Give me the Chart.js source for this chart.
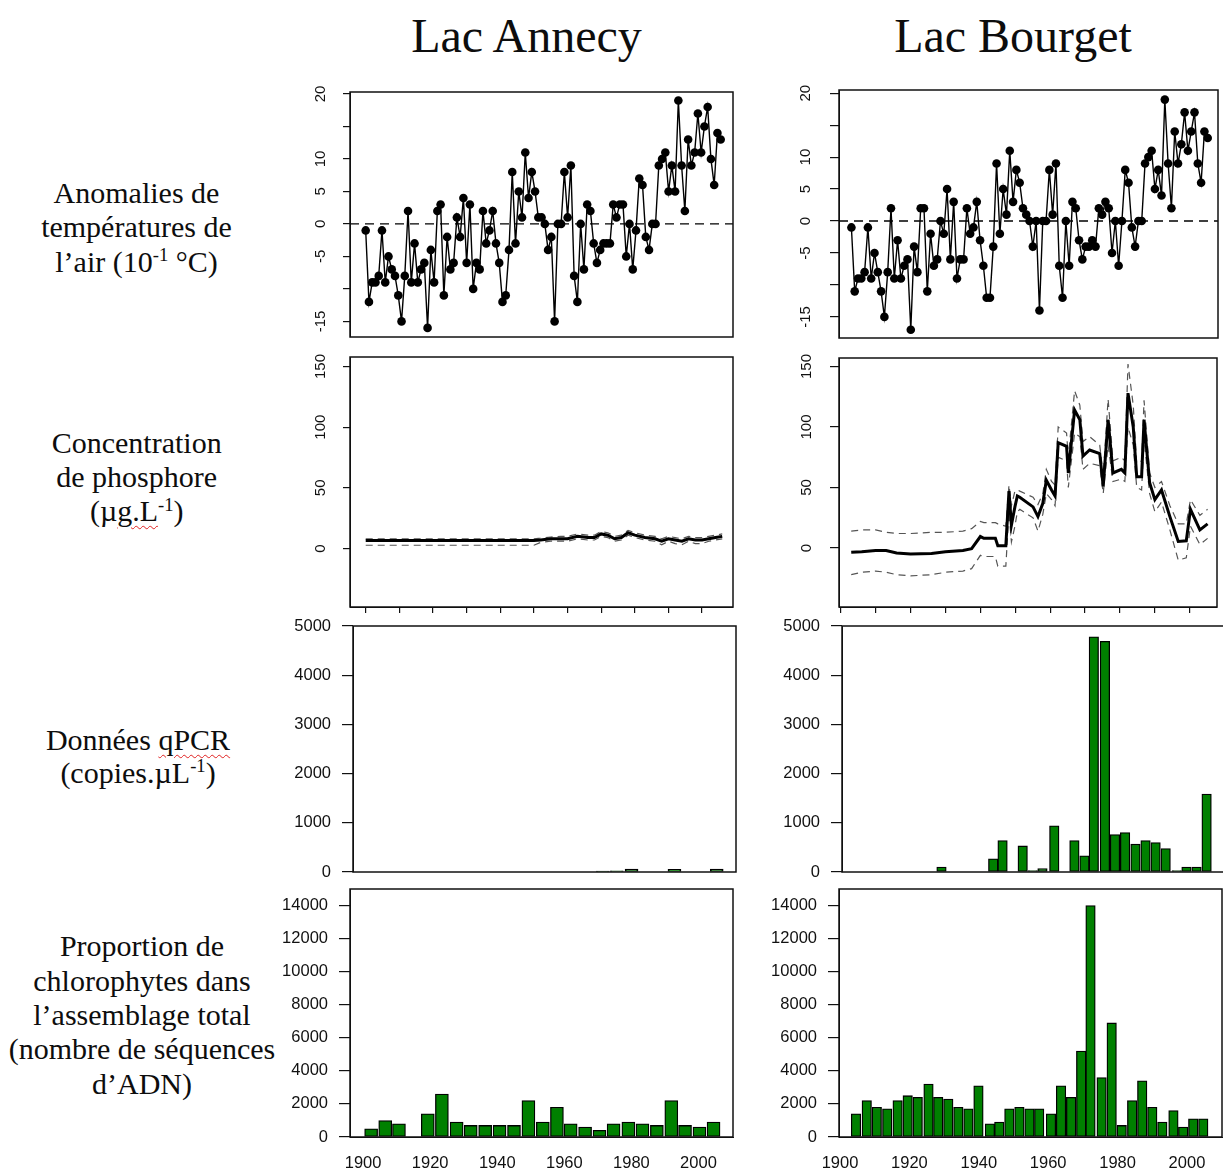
<!DOCTYPE html>
<html><head><meta charset="utf-8">
<script src="https://cdn.jsdelivr.net/npm/chart.js@4.4.0/dist/chart.umd.min.js"></script>
<style>
html,body{margin:0;padding:0;background:#fff;width:1223px;height:1171px;overflow:hidden;position:relative;}
canvas{position:absolute;}
.t{position:absolute;font-family:"Liberation Serif","Times New Roman",serif;color:#0d0d0d;text-align:center;white-space:nowrap;}
.title{font-size:48px;line-height:48px;width:400px;}
.lab{font-size:30px;line-height:34.3px;width:300px;}
.sup{font-size:0.62em;position:relative;top:-0.55em;}
.sp{text-decoration:underline wavy #e02020;text-decoration-thickness:1px;text-underline-offset:4px;}
</style></head><body>
<div class="t title" style="left:326.5px;top:12px">Lac Annecy</div>
<div class="t title" style="left:813px;top:12px">Lac Bourget</div>
<div class="t lab" style="left:-13.5px;top:176px">Anomalies de<br>températures de<br>l’air (10<span class="sup">-1</span> °C)</div>
<div class="t lab" style="left:-13.3px;top:425.7px">Concentration<br>de phosphore<br>(µ<span class="sp">g.L</span><span class="sup">-1</span>)</div>
<div class="t lab" style="left:-12px;top:722.7px;line-height:33px">Données <span class="sp">qPCR</span><br>(copies.µL<span class="sup">-1</span>)</div>
<div class="t lab" style="left:-8px;top:929.4px">Proportion de<br>chlorophytes dans<br>l’assemblage total<br>(nombre de séquences<br>d’ADN)</div>
<script>
// ---------------- DATA ----------------
const tempAnnecy = [-1,-12,-9,-9,-8,-1,-9,-5,-7,-8,-11,-15,-8,2,-9,-3,-9,-7,-6,-16,-4,-9,2,3,-11,-2,-7,-6,1,-2,4,-6,3,-10,-6,-7,2,-3,-1,2,-3,-6,-12,-11,-4,8,-3,5,1,11,4,8,5,1,1,0,-4,-2,-15,0,0,8,1,9,-8,-12,0,-7,3,2,-3,-6,-4,-3,-3,-3,3,1,3,3,-5,0,-7,-1,7,6,-2,-4,0,0,9,10,11,5,9,5,19,9,2,13,9,11,17,11,15,18,10,6,14,13];
const tempBourget = [-1,-11,-9,-9,-8,-1,-9,-5,-8,-11,-15,-8,2,-9,-3,-9,-7,-6,-17,-4,-8,2,2,-11,-2,-7,-6,0,-2,5,-6,3,-9,-6,-6,2,-2,-1,3,-3,-7,-12,-12,-4,9,-2,5,1,11,3,8,6,2,1,0,-4,0,-14,0,0,8,1,9,-7,-12,0,-7,3,2,-3,-6,-4,-4,-3,-4,2,1,3,2,-5,0,-7,0,8,6,-1,-4,0,0,9,10,11,5,8,4,19,9,2,14,9,12,17,11,14,17,9,6,14,13];
const tempYearsAnnecy = tempAnnecy.map((_, i) => 1900 + i);
const tempYearsBourget = tempBourget.map((_, i) => 1900 + i);
const tempTicks = [-15,-10,-5,0,5,10,15,20];
const tempTickLabels = [-15,-5,0,5,10,20];

const phosYearsAnnecy = [1900,1910,1920,1930,1940,1950,1952,1955,1958,1960,1963,1966,1968,1970,1972,1974,1976,1978,1980,1983,1986,1988,1990,1992,1994,1996,1998,2000,2002,2004,2006];
const phosAnnecy      = [6.5,6.5,6.5,6.5,6.5,6.5,7,8,8,8,10,9,9,12,11,8,9,13,11,9,8,6,8,7,6,8,7,7,8,9,10];
const phosAnnecyHigh  = [8,8,8,8,8,8,8.5,9.5,10,10,12,11,11,14,13,10,11,15,13,11,10,8,10,9,8,10,9,9,10,11,12];
const phosAnnecyLow   = [2.7,2.7,2.7,2.7,2.7,2.7,5,6,6,6,8,7,7,10,9,6,7,11,9,7,6,3,6,4,3,6,4,4,6,7,8];

const phosYearsBourget = [1903,1906,1910,1913,1916,1920,1926,1930,1935,1937.5,1940,1941,1944.3,1945,1947.3,1948.2,1948.9,1949.9,1950.6,1951.3,1955.1,1956.5,1957.9,1958.9,1960.4,1961.4,1962.3,1964.7,1965.2,1967,1968.5,1969.4,1971.3,1974.2,1975.2,1976.6,1978,1980.4,1981.4,1982.3,1983.8,1984.8,1986.2,1986.9,1988.5,1990,1991.9,1994.3,1996.7,1999,2000.2,2002.9,2005.1];
const phosBourget      = [-3.5,-3,-2,-2,-4,-5,-4.5,-3,-2,-0.5,9.5,8,8,2,2,47,19,34,43,42,34,26,37,56,48,43,87,84,62,114,106,76,81,78,51,106,62,65,62,128,100,59,59,106,54,40,48,26,5.5,6,32,15,20];
const phosBourgetHigh  = [14,15,15,13,12,12,13,13,14,16,22,21,21,20,18,52,35,47,48,47,42,36,45,65,55,52,100,95,75,130,118,88,92,85,60,123,72,75,72,152,118,70,72,122,62,50,55,35,20,20,40,27,32];
const phosBourgetLow   = [-22,-20,-19,-20,-22,-23,-22,-20,-19,-17,-6,-7,-7,-15,-15,30,5,18,30,32,25,14,28,45,40,35,75,72,50,95,92,65,70,68,45,85,55,57,55,100,85,50,48,90,45,30,38,15,-10,-8,18,3,8];
const phosTicks = [0,50,100,150];
const decadeTicks = [1900,1910,1920,1930,1940,1950,1960,1970,1980,1990,2000];

const qpcrYearsAnnecy = [1970.5,1974.7,1979.1,1991.9,2004.5];
const qpcrAnnecy      = [20,25,60,55,60];
const qpcrYearsBourget = [1928.3,1943.2,1945.9,1951.7,1954.6,1957.4,1960.8,1966.6,1969.5,1972.2,1975.4,1978.3,1981.2,1984.2,1987.1,1990.0,1992.9,1996.1,1998.9,2001.8,2004.7];
const qpcrBourget      = [100,270,640,530,30,70,940,640,330,4780,4690,760,800,565,640,600,475,30,100,100,1585];
const qpcrTicks = [0,1000,2000,3000,4000,5000];

const chloYearsAnnecy = [1902.4,1906.6,1910.7,1919.3,1923.5,1927.9,1932.1,1936.4,1940.7,1945.0,1949.3,1953.6,1957.8,1961.9,1966.2,1970.5,1974.7,1979.1,1983.3,1987.6,1991.9,1996.0,2000.3,2004.5];
const chloAnnecy      = [500,1000,800,1400,2600,900,700,700,700,700,2200,900,1800,800,600,400,800,900,800,700,2200,700,600,900];
const chloYearsBourget = [1904.6,1907.7,1910.6,1913.6,1916.6,1919.5,1922.4,1925.5,1928.3,1931.2,1934.1,1937.0,1939.9,1943.2,1945.9,1948.8,1951.7,1954.6,1957.4,1960.8,1963.7,1966.6,1969.5,1972.2,1975.4,1978.3,1981.2,1984.2,1987.1,1990.0,1992.9,1996.1,1998.9,2001.8,2004.7];
const chloBourget      = [1400,2200,1800,1700,2200,2500,2400,3200,2400,2300,1800,1700,3100,800,900,1700,1800,1700,1700,1400,3100,2400,5200,14000,3600,6900,700,2200,3400,1800,900,1600,600,1100,1100];
const chloTicks = [0,2000,4000,6000,8000,10000,12000,14000];
const yearLabels = [1900,1920,1940,1960,1980,2000];

// ---------------- HELPERS ----------------
const pts = (xs, ys) => xs.map((x, i) => ({x, y: ys[i]}));
const INK = '#111';
const sans = 'Liberation Sans, Arial, sans-serif';
const YW = 70, PADL = 5, PADT = 32, PADR = 20, PADB = 32;

const boxPlugin = {
  id: 'box',
  afterDraw(chart) {
    const {ctx, chartArea: a} = chart;
    ctx.save();
    ctx.strokeStyle = INK; ctx.lineWidth = 1.5;
    ctx.strokeRect(a.left, a.top, a.right - a.left, a.bottom - a.top);
    ctx.restore();
  }
};

function panel(box, xh, config) {
  const c = document.createElement('canvas');
  const w = PADL + YW + (box.R - box.L) + PADR;
  const h = PADT + (box.B - box.T) + xh + PADB;
  c.width = w; c.height = h;
  c.style.left = (box.L - YW - PADL) + 'px';
  c.style.top = (box.T - PADT) + 'px';
  c.style.width = w + 'px'; c.style.height = h + 'px';
  document.body.appendChild(c);
  config.options = Object.assign({
    responsive: false, animation: false, events: [],
    devicePixelRatio: 1,
    layout: {padding: {left: PADL, top: PADT, right: PADR, bottom: PADB}},
  }, config.options);
  config.options.plugins = {legend: {display: false}, tooltip: {enabled: false}};
  config.plugins = [boxPlugin];
  return new Chart(c, config);
}

function rotY(min, max, ticks, labels, tl, pad) {
  return {
    type: 'linear', min, max,
    afterBuildTicks: s => { s.ticks = ticks.map(v => ({value: v})); },
    afterFit: s => { s.width = YW; },
    ticks: {
      callback: v => labels.includes(v) ? String(v) : '',
      minRotation: 90, maxRotation: 90, crossAlign: 'center',
      padding: pad, color: INK, font: {family: sans, size: 15}
    },
    grid: {drawOnChartArea: false, drawTicks: true, tickLength: tl, color: INK, lineWidth: 1.2},
    border: {display: true, color: INK}
  };
}
function barY(max, ticks) {
  return {
    type: 'linear', min: 0, max,
    afterBuildTicks: s => { s.ticks = ticks.map(v => ({value: v})); },
    afterFit: s => { s.width = YW; },
    ticks: {callback: v => String(v), padding: 11, color: INK, font: {family: sans, size: 16.5}},
    grid: {drawOnChartArea: false, drawTicks: true, tickLength: 11, color: INK, lineWidth: 1.2},
    border: {display: true, color: INK}
  };
}

// ---------------- TEMPERATURE ----------------
function tempPanel(box, xmin, xmax, ymin, ymax, years, vals, tl, pad) {
  panel(box, 0, {
    type: 'line',
    data: {datasets: [
      {data: pts(years, vals), borderColor: '#000', borderWidth: 1.4, pointRadius: 4.3,
       pointBackgroundColor: '#000', pointBorderWidth: 0, tension: 0},
      {data: [{x: xmin, y: 0}, {x: xmax, y: 0}], borderColor: '#000', borderWidth: 1.4,
       borderDash: [9, 6], pointRadius: 0}
    ]},
    options: {scales: {
      x: {type: 'linear', min: xmin, max: xmax, display: false},
      y: rotY(ymin, ymax, tempTicks, tempTickLabels, tl, pad)
    }}
  });
}
tempPanel({L: 350, T: 92, R: 733, B: 337}, 1895.18, 2012.78, -17.4, 20.3, tempYearsAnnecy, tempAnnecy, 7, 11.4);
tempPanel({L: 839, T: 90, R: 1218, B: 338}, 1896.24, 2011.12, -18.3, 20.5, tempYearsBourget, tempBourget, 9, 13.7);

// ---------------- PHOSPHORUS ----------------
function phosPanel(box, xmin, xmax, ymin, ymax, years, main, hi, lo, tl, pad) {
  panel(box, 6, {
    type: 'line',
    data: {datasets: [
      {data: pts(years, main), borderColor: '#000', borderWidth: 3, pointRadius: 0, tension: 0},
      {data: pts(years, hi), borderColor: '#555', borderWidth: 1.2, borderDash: [7, 5], pointRadius: 0},
      {data: pts(years, lo), borderColor: '#555', borderWidth: 1.2, borderDash: [7, 5], pointRadius: 0}
    ]},
    options: {scales: {
      x: {type: 'linear', min: xmin, max: xmax,
          afterBuildTicks: s => { s.ticks = decadeTicks.map(v => ({value: v})); },
          afterFit: s => { s.height = 6; },
          ticks: {display: false},
          grid: {drawOnChartArea: false, drawTicks: true, tickLength: 6, color: INK, lineWidth: 1.2},
          border: {display: true, color: INK}},
      y: rotY(ymin, ymax, phosTicks, phosTicks, tl, pad)
    }}
  });
}
phosPanel({L: 350, T: 357, R: 733, B: 607}, 1895.33, 2009.2, -48.2, 157.8, phosYearsAnnecy, phosAnnecy, phosAnnecyHigh, phosAnnecyLow, 7, 9.7);
phosPanel({L: 839, T: 358, R: 1217, B: 607}, 1899.5, 2007.8, -48.7, 157, phosYearsBourget, phosBourget, phosBourgetHigh, phosBourgetLow, 9, 10.3);

// ---------------- BARS ----------------
function barPanel(box, xh, xmin, xmax, ymax, yticks, years, vals, thick, showX) {
  const x = showX ? {
      type: 'linear', min: xmin, max: xmax, offset: false,
      afterBuildTicks: s => { s.ticks = yearLabels.map(v => ({value: v})); },
      afterFit: s => { s.height = xh; },
      ticks: {callback: v => String(v), autoSkip: false, maxRotation: 0, padding: 17,
              color: INK, font: {family: sans, size: 16.5}},
      grid: {drawOnChartArea: false, drawTicks: false, color: INK},
      border: {display: true, color: INK}
    } : {type: 'linear', min: xmin, max: xmax, offset: false, display: false};
  panel(box, xh, {
    type: 'bar',
    data: {datasets: [{data: pts(years, vals), backgroundColor: '#008000', borderColor: '#000',
      borderWidth: 1.3, borderSkipped: false, barThickness: thick}]},
    options: {scales: {x, y: barY(ymax, yticks)}}
  });
}
barPanel({L: 353, T: 626, R: 736, B: 872}, 0, 1896.03, 2010.25, 5000, qpcrTicks, qpcrYearsAnnecy, qpcrAnnecy, 13, false);
barPanel({L: 842, T: 626, R: 1225, B: 872}, 0, 1899.63, 2010.0, 5000, qpcrTicks, qpcrYearsBourget, qpcrBourget, 9.5, false);
barPanel({L: 350, T: 889, R: 733, B: 1137}, 40, 1896.1, 2010.3, 15000, chloTicks, chloYearsAnnecy, chloAnnecy, 13, true);
barPanel({L: 839, T: 889, R: 1222, B: 1137}, 40, 1899.7, 2010.1, 15000, chloTicks, chloYearsBourget, chloBourget, 9.5, true);
</script>
</body></html>
